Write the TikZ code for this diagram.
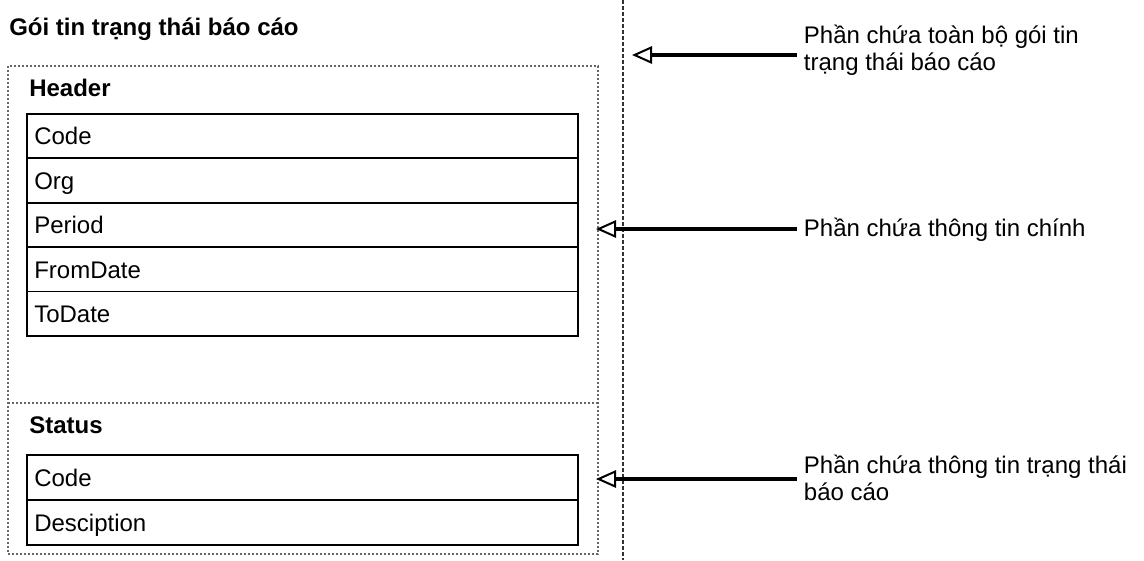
\documentclass[tikz,border=0pt]{standalone}
\usepackage{fontspec}
\setmainfont{Liberation Sans}
\usepackage{tikz}
\usetikzlibrary{arrows.meta}

\tikzset{
  rowbox/.style={draw, line width=1.4pt, anchor=north west, inner xsep=5.5pt, text width=402pt, align=left, minimum height=33.3pt, text height=13pt, text depth=0pt, font=\fontsize{18}{21}\selectfont},
  sectlabel/.style={anchor=base west, inner sep=0.75pt, font=\bfseries\fontsize{18}{21}\selectfont},
  notelabel/.style={inner xsep=5pt, inner ysep=0.75pt, align=left, font=\fontsize{18}{20}\selectfont},
  callout/.style={line width=2.6pt, -{Triangle[open, length=15pt, width=13pt, line width=1.5pt]}},
  dotbox/.style={draw=black!60, line width=0.8pt, dash pattern=on 1.5pt off 1.5pt},
  splitline/.style={draw=black!80, line width=0.8pt, dash pattern=on 3pt off 1.5pt}
}

\begin{document}
\begin{tikzpicture}[x=0.75pt,y=0.75pt,yscale=-1,xscale=1]
\useasboundingbox (0,0) rectangle (1144,560);

%Dashed Lines
\draw [splitline] (623,0) -- (623,560) ;
\draw [dotbox] (8,66) rectangle (598,554) ;
\draw [dotbox] (8,403) -- (598,403) ;

% Text Node
\node [sectlabel] (title) at (8,36) {Gói tin trạng thái báo cáo};
\node [sectlabel] (header) at (28,96) {Header};
\node [sectlabel] (status) at (28,433) {Status};

% Header rows
\node [rowbox] (hdrcode) at (26,113) {Code};
\node [rowbox] (hdrorg) at (26,157.4) {Org};
\node [rowbox] (hdrperiod) at (26,201.8) {Period};
\node [rowbox] (hdrfrom) at (26,246.2) {FromDate};
\node [rowbox] (hdrto) at (26,290.6) {ToDate};

% Status rows
\node [rowbox, minimum height=33.75pt] (stcode) at (26,454) {Code};
\node [rowbox, minimum height=33.75pt] (stdesc) at (26,499) {Desciption};

% Notes
\coordinate (tipwhole) at (632,55);
\coordinate (tipmain) at (596,229);
\coordinate (tipstatus) at (596,479);
\node [notelabel, anchor=north west] (notewhole) at (797,24) {Phần chứa toàn bộ gói tin\\trạng thái báo cáo};
\node [notelabel, anchor=base west] (notemain) at (797,236) {Phần chứa thông tin chính};
\node [notelabel, anchor=north west] (notestatus) at (797,454) {Phần chứa thông tin trạng thái\\báo cáo};

%Arrows
\draw [callout] (notewhole.west |- tipwhole) -- (tipwhole) ;
\draw [callout] (notemain.west |- tipmain) -- (tipmain) ;
\draw [callout] (notestatus.west |- tipstatus) -- (tipstatus) ;

\end{tikzpicture}
\end{document}
